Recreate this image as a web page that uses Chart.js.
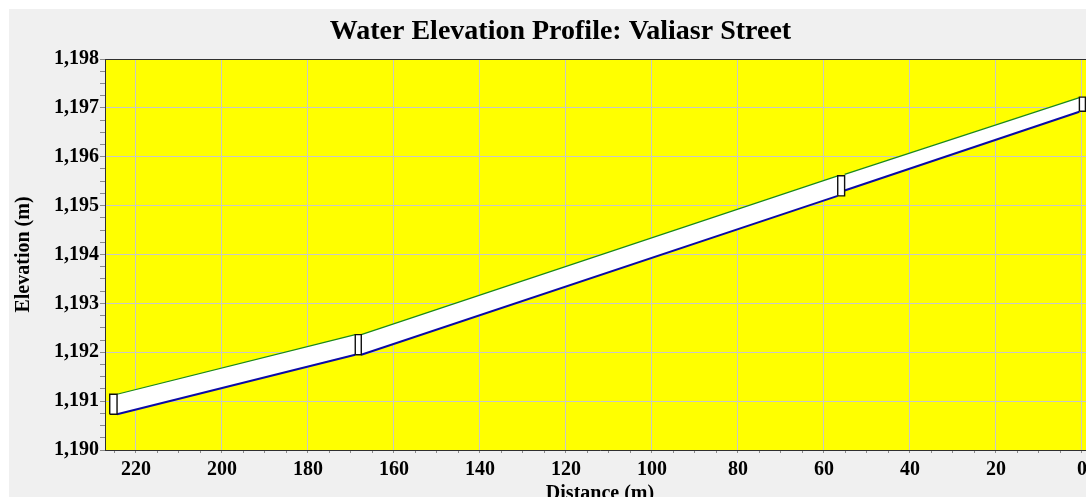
<!DOCTYPE html>
<html>
<head>
<meta charset="utf-8">
<script src="https://cdn.jsdelivr.net/npm/chart.js@4.4.1/dist/chart.umd.min.js"></script>
<style>
  html, body { margin: 0; padding: 0; background: #fff; overflow: hidden; }
  #wrap { position: absolute; left: 9px; top: 9px; width: 1102px; height: 501px; background: #f0f0f0; }
</style>
</head>
<body>
<div id="wrap"><canvas id="profile"></canvas></div>
<script>
// axis ticks
const distTicks = [0, 20, 40, 60, 80, 100, 120, 140, 160, 180, 200, 220];
const elevTicks = [1190, 1191, 1192, 1193, 1194, 1195, 1196, 1197, 1198];

// pipes (distance in m, elevation in m)
const pipeFromDist = [224.4, 167.6, 55.2];
const pipeToDist = [169.0, 56.8, 0.6];
const pipeCrownFrom = [1191.14, 1192.36, 1195.64];
const pipeCrownTo = [1192.36, 1195.61, 1197.21];
const pipeInvertFrom = [1190.73, 1191.95, 1195.31];
const pipeInvertTo = [1191.95, 1195.20, 1196.92];

// manholes / junction boxes
const nodeDistA = [226.1, 169.0, 56.8, 0.6];
const nodeDistB = [224.4, 167.6, 55.2, -0.8];
const nodeTop = [1191.14, 1192.36, 1195.61, 1197.22];
const nodeBottom = [1190.73, 1191.95, 1195.20, 1196.93];

const SERIF = "'Liberation Serif', 'Times New Roman', serif";

const datasets = [];

// boxes on top
nodeDistA.forEach((a, i) => {
  const b = nodeDistB[i];
  datasets.push({
    data: [
      { x: a, y: nodeBottom[i] }, { x: a, y: nodeTop[i] },
      { x: b, y: nodeTop[i] }, { x: b, y: nodeBottom[i] },
      { x: a, y: nodeBottom[i] },
    ],
    borderColor: '#101010',
    borderWidth: 1.4,
    backgroundColor: '#ffffff',
    fill: 'shape',
    order: 0,
  });
});

pipeFromDist.forEach((from, i) => {
  const to = pipeToDist[i];
  const invIdx = datasets.length;
  datasets.push({
    data: [{ x: from, y: pipeInvertFrom[i] }, { x: to, y: pipeInvertTo[i] }],
    borderColor: '#0a0aa8',
    borderWidth: 2,
    fill: false,
    order: 1,
  });
  datasets.push({
    data: [{ x: from, y: pipeCrownFrom[i] }, { x: to, y: pipeCrownTo[i] }],
    borderColor: '#1a8a1a',
    borderWidth: 1.2,
    backgroundColor: '#ffffff',
    fill: { target: invIdx },
    order: 1,
  });
});

const plotFrame = {
  id: 'plotFrame',
  afterLayout(chart) {
    // title sits a little right of the canvas centre in the original
    if (chart.titleBlock) {
      chart.titleBlock.left += 8.5;
      chart.titleBlock.right += 8.5;
    }
  },
  beforeDraw(chart) {
    const { ctx, chartArea: a } = chart;
    ctx.save();
    ctx.fillStyle = '#ffff00';
    ctx.fillRect(a.left, a.top, chart.width - a.left, a.bottom - a.top);
    ctx.restore();
  },
  afterDraw(chart) {
    const { ctx, chartArea: a } = chart;
    ctx.save();
    ctx.strokeStyle = '#303030';
    ctx.lineWidth = 1;
    ctx.beginPath();
    ctx.moveTo(a.left, a.top + 0.5);
    ctx.lineTo(chart.width, a.top + 0.5);
    ctx.stroke();
    ctx.restore();
  },
};

const isMajorDist = v => distTicks.includes(Math.round(v * 100) / 100);
const isMajorElev = v => elevTicks.includes(Math.round(v * 100) / 100);

new Chart(document.getElementById('profile'), {
  type: 'line',
  data: { datasets },
  plugins: [plotFrame],
  options: {
    responsive: true,
    maintainAspectRatio: false,
    animation: false,
    elements: { point: { radius: 0 }, line: { tension: 0 } },
    layout: { padding: { right: 16 } },
    plugins: {
      legend: { display: false },
      tooltip: { enabled: false },
      title: {
        display: true,
        text: 'Water Elevation Profile: Valiasr Street',
        color: '#000',
        font: { family: SERIF, size: 28, weight: 'bold' },
        padding: { top: 5.5, bottom: 10.9 },
      },
    },
    scales: {
      x: {
        type: 'linear',
        reverse: true,
        min: -3.03,
        max: 227.2,
        afterBuildTicks: s => {
          s.ticks = [];
          for (let i = 0; i <= 45; i++) s.ticks.push({ value: i * 5 });
        },
        afterFit: s => { s.height = 60; },
        ticks: {
          autoSkip: false,
          maxRotation: 0,
          padding: 5,
          color: '#000',
          font: { family: SERIF, size: 20, weight: 'bold' },
          callback: v => (isMajorDist(v) ? String(v) : ''),
        },
        grid: {
          color: c => (c.tick && isMajorDist(c.tick.value) ? '#c8c8c8' : 'rgba(0,0,0,0)'),
          tickColor: '#8a8a8a',
          tickLength: 3,
          lineWidth: 1,
        },
        border: { color: '#303030', width: 1 },
        title: {
          display: true,
          text: 'Distance (m)',
          color: '#000',
          font: { family: SERIF, size: 20, weight: 'bold' },
          padding: { top: 0, bottom: 4 },
        },
      },
      y: {
        min: 1190,
        max: 1198,
        afterBuildTicks: s => {
          s.ticks = [];
          for (let i = 0; i <= 32; i++) s.ticks.push({ value: 1190 + i * 0.25 });
        },
        afterFit: s => { s.width = 96; },
        ticks: {
          autoSkip: false,
          padding: 1,
          color: '#000',
          font: { family: SERIF, size: 20, weight: 'bold' },
          callback: v => (isMajorElev(v) ? v.toLocaleString('en-US') : ''),
        },
        grid: {
          color: c => (c.tick && isMajorElev(c.tick.value) ? '#c8c8c8' : 'rgba(0,0,0,0)'),
          tickColor: '#8a8a8a',
          tickLength: 5,
          lineWidth: 1,
        },
        border: { color: '#303030', width: 1 },
        title: {
          display: true,
          text: 'Elevation (m)',
          color: '#000',
          font: { family: SERIF, size: 20, weight: 'bold' },
          padding: { top: 3, bottom: 0 },
        },
      },
    },
  },
});
</script>
</body>
</html>
